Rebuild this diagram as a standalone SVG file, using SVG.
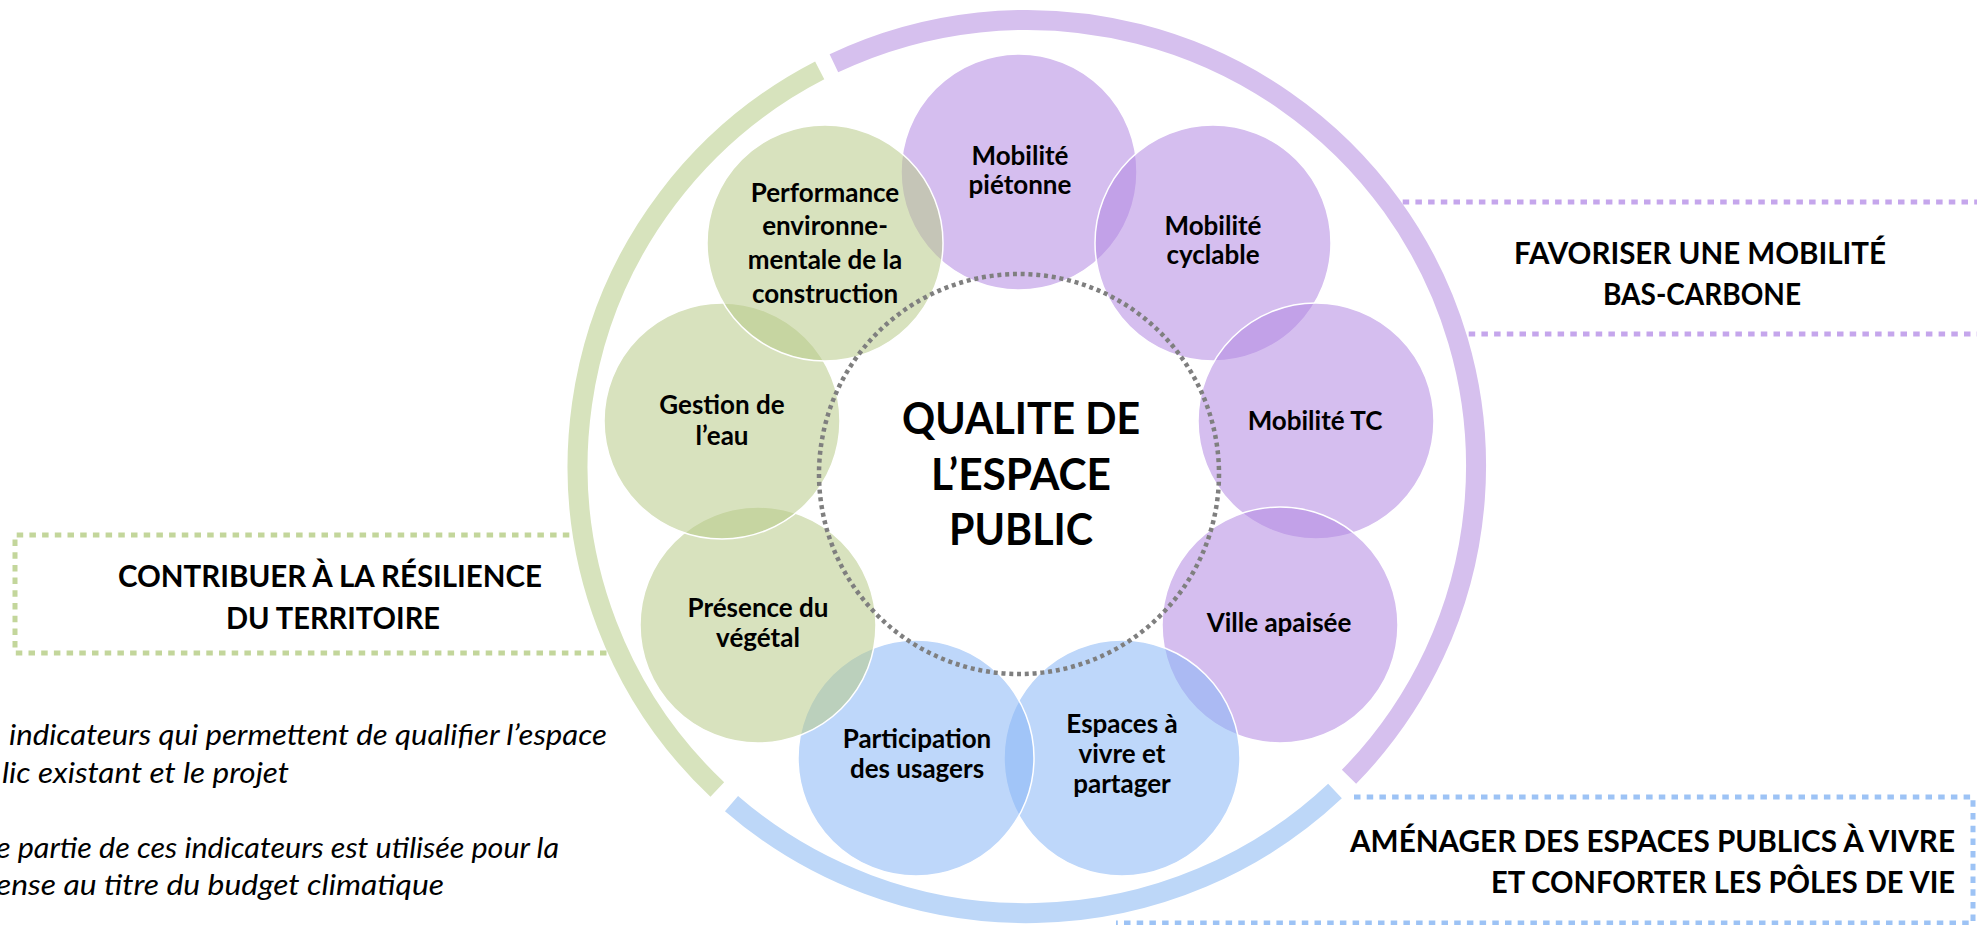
<svg xmlns="http://www.w3.org/2000/svg" width="1977" height="925" viewBox="0 0 1977 925">
<style>
.ring{fill:none;stroke-width:20;stroke-linecap:butt}
.dash{fill:none;stroke-width:5;stroke-dasharray:6.5 6.2}
.c{stroke:#ffffff;stroke-width:1.5}
.pu{fill:#b389e2;fill-opacity:.55}
.gr{fill:#b8ca89;fill-opacity:.55}
.bl{fill:#89b6f6;fill-opacity:.55}
.lbl{font-family:Lato,"Open Sans",sans-serif;font-weight:bold;font-size:26px;fill:#000;text-anchor:middle}
.hdr{font-family:Lato,"Open Sans",sans-serif;font-weight:bold;font-size:31px;fill:#000}
.ctr{font-family:Lato,"Open Sans",sans-serif;font-weight:bold;font-size:44px;fill:#000;text-anchor:middle}
.it{font-family:Lato,"Open Sans",sans-serif;font-style:italic;font-size:28px;fill:#000}
</style>
<rect width="1977" height="925" fill="#ffffff"/>
<g id="frames">
  <line class="dash" stroke="#c5a6ec" x1="1390" y1="202" x2="1977" y2="202"/>
  <line class="dash" stroke="#c5a6ec" x1="1456" y1="334" x2="1977" y2="334"/>
  <polyline class="dash" stroke="#c3d69b" points="582,535 15,535 15,653 618,653"/>
  <polyline class="dash" stroke="#9dc3f5" points="1354,797 1973,797 1973,923 1116,923"/>
  <path class="ring" stroke="#d6c0ee" d="M833.9,63.3 A449,446 0 0 1 1349.0,776.8"/>
  <path class="ring" stroke="#bdd7f8" d="M1335.0,791.0 A449,446 0 0 1 731.5,803.6"/>
  <path class="ring" stroke="#d7e3bd" d="M717.3,789.5 A449,446 0 0 1 819.7,70.4"/>
</g>
<g id="connectors"/>
<g id="n-pietonne"><circle class="c pu" cx="1019" cy="172" r="118"/><text class="lbl" x="1020" y="165">Mobilité</text><text class="lbl" x="1020" y="194">piétonne</text></g>
<g id="n-cyclable"><circle class="c pu" cx="1213" cy="243" r="118"/><text class="lbl" x="1213" y="235">Mobilité</text><text class="lbl" x="1213" y="264">cyclable</text></g>
<g id="n-tc"><circle class="c pu" cx="1316" cy="421" r="118"/><text class="lbl" x="1315" y="430">Mobilité TC</text></g>
<g id="n-ville"><circle class="c pu" cx="1280" cy="625" r="118"/><text class="lbl" x="1279" y="632">Ville apaisée</text></g>
<g id="n-espaces"><circle class="c bl" cx="1122" cy="758" r="118"/><text class="lbl" x="1122" y="733">Espaces à</text><text class="lbl" x="1122" y="763">vivre et</text><text class="lbl" x="1122" y="793">partager</text></g>
<g id="n-participation"><circle class="c bl" cx="916" cy="758" r="118"/><text class="lbl" x="917" y="748">Participation</text><text class="lbl" x="917" y="778">des usagers</text></g>
<g id="n-presence"><circle class="c gr" cx="758" cy="625" r="118"/><text class="lbl" x="758" y="617">Présence du</text><text class="lbl" x="758" y="647">végétal</text></g>
<g id="n-gestion"><circle class="c gr" cx="722" cy="421" r="118"/><text class="lbl" x="722" y="414">Gestion de</text><text class="lbl" x="722" y="445">l’eau</text></g>
<g id="n-performance"><circle class="c gr" cx="825" cy="243" r="118"/><text class="lbl" x="825" y="202">Performance</text><text class="lbl" x="825" y="235">environne-</text><text class="lbl" x="825" y="269">mentale de la</text><text class="lbl" x="825" y="303">construction</text></g>
<g id="n-centre">
  <circle cx="1019" cy="474" r="200" fill="none" stroke="#7f7f7f" stroke-width="4.5" stroke-dasharray="4 3.8"/>
  <text class="ctr" x="1021" y="434" textLength="238" lengthAdjust="spacingAndGlyphs">QUALITE DE</text>
  <text class="ctr" x="1021" y="490" textLength="180" lengthAdjust="spacingAndGlyphs">L’ESPACE</text>
  <text class="ctr" x="1021" y="545" textLength="144" lengthAdjust="spacingAndGlyphs">PUBLIC</text>
</g>
<g id="t-mobilite">
  <text class="hdr" x="1700" y="264" text-anchor="middle" textLength="372" lengthAdjust="spacingAndGlyphs">FAVORISER UNE MOBILITÉ</text>
  <text class="hdr" x="1702" y="305" text-anchor="middle" textLength="198" lengthAdjust="spacingAndGlyphs">BAS-CARBONE</text>
</g>
<g id="t-resilience">
  <text class="hdr" x="330" y="587" text-anchor="middle" textLength="424" lengthAdjust="spacingAndGlyphs">CONTRIBUER À LA RÉSILIENCE</text>
  <text class="hdr" x="333" y="629" text-anchor="middle" textLength="214" lengthAdjust="spacingAndGlyphs">DU TERRITOIRE</text>
</g>
<g id="t-espaces">
  <text class="hdr" x="1955" y="852" text-anchor="end" textLength="605" lengthAdjust="spacingAndGlyphs">AMÉNAGER DES ESPACES PUBLICS À VIVRE</text>
  <text class="hdr" x="1955" y="893" text-anchor="end" textLength="464" lengthAdjust="spacingAndGlyphs">ET CONFORTER LES PÔLES DE VIE</text>
</g>
<g id="t-notes">
  <text class="it" x="9" y="745" textLength="598" lengthAdjust="spacingAndGlyphs">indicateurs qui permettent de qualifier l’espace</text>
  <text class="it" x="2" y="783" textLength="287" lengthAdjust="spacingAndGlyphs">lic existant et le projet</text>
  <text class="it" x="-4" y="858" textLength="563" lengthAdjust="spacingAndGlyphs">e partie de ces indicateurs est utilisée pour la</text>
  <text class="it" x="-4" y="895" textLength="448" lengthAdjust="spacingAndGlyphs">ense au titre du budget climatique</text>
</g>
</svg>
